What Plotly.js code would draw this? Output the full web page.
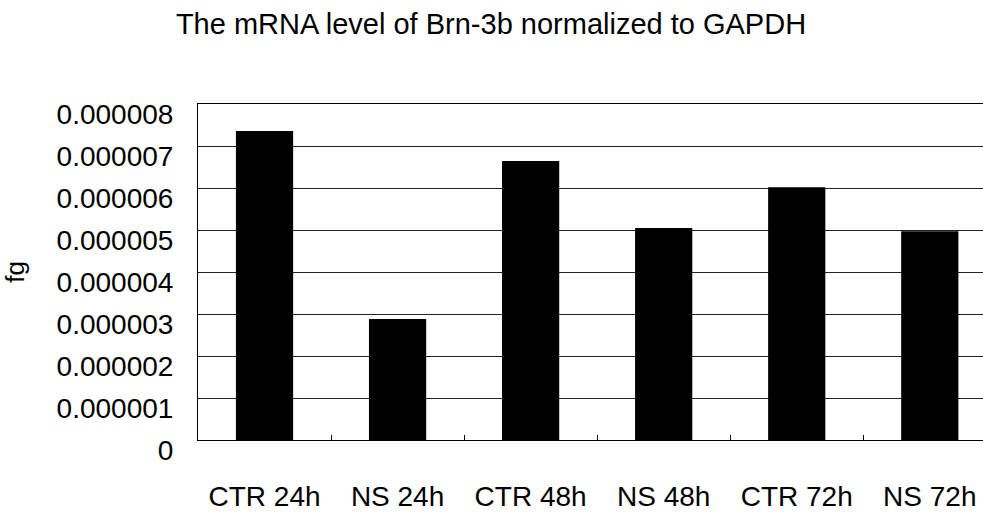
<!DOCTYPE html>
<html>
<head>
<meta charset="utf-8">
<script src="https://cdn.plot.ly/plotly-3.0.1.min.js"></script>
<style>html,body{margin:0;padding:0;background:#fff;overflow:hidden;}#chart{width:983px;height:513px;}</style>
</head>
<body>
<div id="chart"></div>
<script>
var categories = ["CTR 24h", "NS 24h", "CTR 48h", "NS 48h", "CTR 72h", "NS 72h"];
var values = [0.00000736, 0.00000288, 0.00000664, 0.00000505, 0.00000602, 0.00000497];
var yTickValues = [0, 0.000001, 0.000002, 0.000003, 0.000004, 0.000005, 0.000006, 0.000007, 0.000008];
var yTickLabels = ["0", "0.000001", "0.000002", "0.000003", "0.000004", "0.000005", "0.000006", "0.000007", "0.000008"];
var chartTitle = "The mRNA level of Brn-3b normalized to GAPDH";
var yTitle = "fg";

var font = "Liberation Sans, Arial, sans-serif";
var trace = {
  type: "bar",
  x: categories,
  y: values,
  marker: {color: "#000000", line: {width: 0}},
  hoverinfo: "x+y"
};
var layout = {
  width: 983, height: 513,
  margin: {l: 198, r: 0, t: 104, b: 73, pad: 0},
  paper_bgcolor: "#ffffff", plot_bgcolor: "#ffffff",
  showlegend: false,
  bargap: 0.57,
  font: {family: font, color: "#000000"},
  title: {
    text: chartTitle,
    font: {family: font, size: 29, color: "#000000"},
    xref: "container", yref: "container",
    x: 491/983, xanchor: "center",
    y: 1 - 24/513, yanchor: "middle"
  },
  xaxis: {
    type: "category",
    range: [-0.5, 5.4],
    showline: true, linecolor: "#000000", linewidth: 1, mirror: true,
    showgrid: false, zeroline: false,
    ticks: "inside", tickson: "boundaries", ticklen: 5, tickcolor: "#000000", tickwidth: 1,
    tickfont: {family: font, size: 28, color: "#000000"},
    ticklabelstandoff: 31,
    fixedrange: true
  },
  yaxis: {
    range: [0, 0.000008],
    tickvals: yTickValues,
    ticktext: yTickLabels,
    showline: true, linecolor: "#000000", linewidth: 1,
    showgrid: true, gridcolor: "#222222", gridwidth: 1,
    zeroline: false,
    ticks: "",
    tickfont: {family: font, size: 28, color: "#000000"},
    ticklabelstandoff: 18,
    ticklabelshift: 10,
    title: {text: yTitle, font: {family: font, size: 26, color: "#000000"}, standoff: 30},
    fixedrange: true
  }
};
Plotly.newPlot("chart", [trace], layout, {displayModeBar: false, staticPlot: true});
</script>
</body>
</html>
